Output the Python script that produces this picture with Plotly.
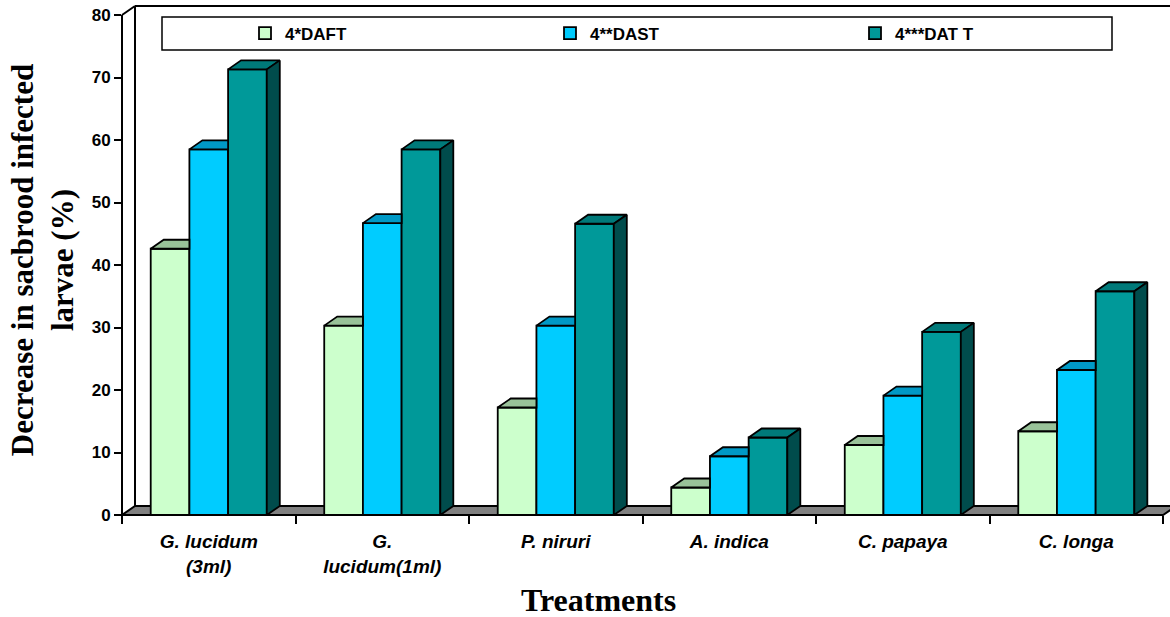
import plotly.graph_objects as go

# Treatments and the three observation series (% decrease in sacbrood infected larvae)
treatments = ["G. lucidum<br>(3ml)", "G.<br>lucidum(1ml)", "P. niruri",
              "A. indica", "C. papaya", "C. longa"]
series_names = ["4*DAFT", "4**DAST", "4***DAT T"]
daft = [42.6, 30.3, 17.2, 4.4, 11.2, 13.4]
dast = [58.5, 46.7, 30.3, 9.4, 19.1, 23.2]
datt = [71.3, 58.5, 46.6, 12.4, 29.3, 35.8]
y_ticks = [0, 10, 20, 30, 40, 50, 60, 70, 80]

series = [daft, dast, datt]
front_colors = ["#CCFFCC", "#00CCFF", "#009999"]
top_colors = ["#99C299", "#0099C6", "#007A7A"]
side_colors = ["#7FA37F", "#007FA3", "#004C4C"]

# Figure geometry
W, H = 1170, 617
M_L, M_R, M_T, M_B = 122, 0, 5, 102
X0, X1 = -0.5, 5.54
Y0, Y1 = 0, 81.6
plot_w = W - M_L - M_R
plot_h = H - M_T - M_B
px_per_x = plot_w / (X1 - X0)
px_per_y = plot_h / (Y1 - Y0)

# Oblique depth of the 3-D look, in pixels, converted to data units
DX = 13 / px_per_x
DY = 9 / px_per_y

bar_w = 0.223
offsets = [-1.5 * bar_w, -0.5 * bar_w, 0.5 * bar_w]
xs = list(range(len(treatments)))
EDGE = 1.8


def to_paper(x, y):
    return (x - X0) / (X1 - X0), (y - Y0) / (Y1 - Y0)


def paper_path(points):
    pts = [to_paper(x, y) for x, y in points]
    return "M " + " L ".join(f"{px:.5f},{py:.5f}" for px, py in pts) + " Z"


def px2paper_x(px):
    return (px - M_L) / plot_w


def py2paper_y(py):
    return (H - M_B - py) / plot_h


fig = go.Figure()

# Front faces of the columns
for j, (name, vals) in enumerate(zip(series_names, series)):
    fig.add_trace(go.Bar(
        x=xs, y=vals, name=name, width=bar_w, offset=offsets[j],
        marker=dict(color=front_colors[j], line=dict(color="black", width=EDGE)),
        hoverinfo="skip",
    ))

# Top and side faces of the columns
for j, vals in enumerate(series):
    top_x, top_y, side_x, side_y = [], [], [], []
    for i, v in enumerate(vals):
        xl = xs[i] + offsets[j]
        xr = xl + bar_w
        nxt = series[j + 1][i] if j + 1 < len(series) else None
        if nxt is not None and nxt >= v + DY:
            # right part hidden behind the taller neighbour
            tx = [xl, xr, xr, xl + DX, xl]
            ty = [v, v, v + DY, v + DY, v]
        else:
            tx = [xl, xr, xr + DX, xl + DX, xl]
            ty = [v, v, v + DY, v + DY, v]
            side_x += [xr, xr + DX, xr + DX, xr, xr, None]
            side_y += [0, DY, v + DY, v, 0, None]
        top_x += tx + [None]
        top_y += ty + [None]
    fig.add_trace(go.Scatter(
        x=top_x, y=top_y, mode="lines", fill="toself",
        fillcolor=top_colors[j], line=dict(color="black", width=EDGE),
        hoverinfo="skip", showlegend=False,
    ))
    if side_x:
        fig.add_trace(go.Scatter(
            x=side_x, y=side_y, mode="lines", fill="toself",
            fillcolor=side_colors[j], line=dict(color="black", width=EDGE),
            hoverinfo="skip", showlegend=False,
        ))

shapes = []
x_left, x_right = -0.5, len(treatments) - 0.5
y_top = y_ticks[-1]

# Floor slab
shapes.append(dict(
    type="path", xref="paper", yref="paper", layer="below",
    path=paper_path([(x_left, 0), (x_right, 0), (x_right + DX, DY), (x_left + DX, DY)]),
    fillcolor="#808080", line=dict(color="black", width=2),
))
# Back wall and side wall edges
for pts in [
    [(x_left + DX, DY), (x_left + DX, y_top + DY)],
    [(x_left + DX, y_top + DY), (X1 + 1, y_top + DY)],
    [(x_left, 0), (x_left, y_top)],
    [(x_left, y_top), (x_left + DX, y_top + DY)],
]:
    (ax, ay), (bx, by) = to_paper(*pts[0]), to_paper(*pts[1])
    shapes.append(dict(type="line", xref="paper", yref="paper", layer="below",
                       x0=ax, y0=ay, x1=bx, y1=by,
                       line=dict(color="black", width=2)))

# Legend frame
shapes.append(dict(type="rect", xref="paper", yref="paper", layer="above",
                   x0=px2paper_x(162), x1=px2paper_x(1112),
                   y0=py2paper_y(50), y1=py2paper_y(17),
                   fillcolor="white", line=dict(color="black", width=1.5)))

fig.update_layout(
    width=W, height=H,
    margin=dict(l=M_L, r=M_R, t=M_T, b=M_B),
    paper_bgcolor="white", plot_bgcolor="rgba(0,0,0,0)",
    barmode="overlay",
    shapes=shapes,
    showlegend=True,
    legend=dict(
        orientation="h", x=px2paper_x(245), xanchor="left",
        y=py2paper_y(33.5), yanchor="middle",
        bgcolor="rgba(0,0,0,0)", borderwidth=0,
        entrywidth=260, entrywidthmode="pixels", itemwidth=30,
        font=dict(family="Liberation Sans, Arial", size=17, color="black", weight="bold"),
        traceorder="normal",
    ),
    xaxis=dict(
        range=[X0, X1], showgrid=False, zeroline=False, showline=False,
        tickvals=xs,
        ticktext=[f"<b><i>{t}</i></b>" for t in treatments],
        ticks="", ticklabelstandoff=13,
        tickfont=dict(family="Liberation Sans, Arial", size=19, color="black"),
        minor=dict(tickvals=[k - 0.5 for k in range(len(treatments) + 1)],
                   ticks="outside", ticklen=8, tickwidth=1.5, tickcolor="black",
                   showgrid=False),
        fixedrange=True,
    ),
    yaxis=dict(
        range=[Y0, Y1], showgrid=False, zeroline=False, showline=False,
        tickvals=y_ticks, ticks="outside", ticklen=7, tickwidth=1.5,
        tickcolor="black",
        tickfont=dict(family="Liberation Sans, Arial", size=17, color="black", weight="bold"),
        title=dict(text="Decrease in sacbrood infected<br>larvae (%)",
                   font=dict(family="Liberation Serif, Times New Roman", size=31,
                             color="black", weight="bold"),
                   standoff=8),
        fixedrange=True,
    ),
    annotations=[dict(
        text="<b>Treatments</b>", xref="paper", yref="paper",
        x=px2paper_x(598), y=py2paper_y(600), xanchor="center", yanchor="middle",
        showarrow=False,
        font=dict(family="Liberation Serif, Times New Roman", size=32, color="black"),
    )],
)

fig.write_html("out.html")
